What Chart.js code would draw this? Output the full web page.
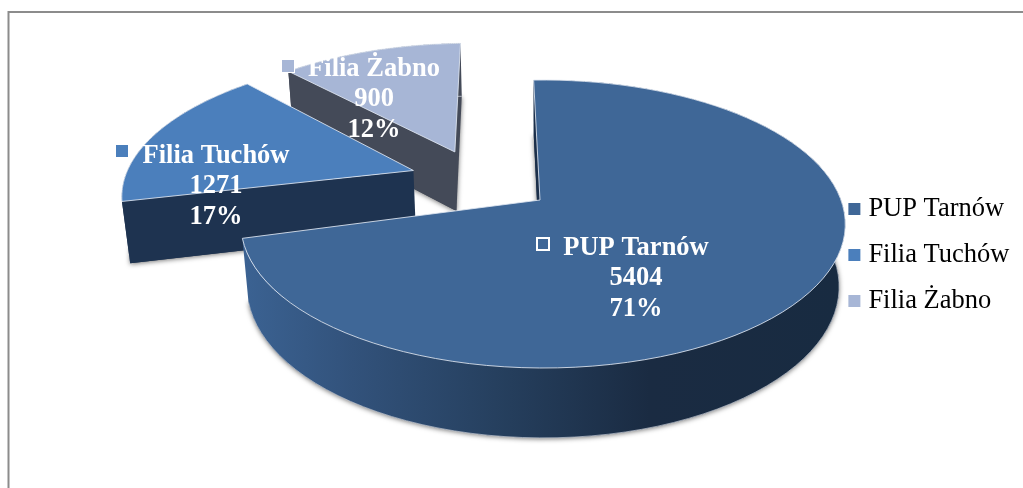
<!DOCTYPE html>
<html><head><meta charset="utf-8">
<style>html,body{margin:0;padding:0;background:#fff}canvas{display:block}</style>
<script src="https://cdn.jsdelivr.net/npm/chart.js@4/dist/chart.umd.js"></script>
</head><body><canvas id="c" width="1023" height="488"></canvas>
<script>
const categories = ['PUP Tarnów', 'Filia Tuchów', 'Filia Żabno'];
const values = [5404, 1271, 900];
const percents = ['71%', '17%', '12%'];
const explosion = [0.2656, 0.2345, 0.225];
const topColors = ['#3f6797', '#4b7fbc', '#a7b6d6'];
const sideColors = ['#1b2f4a', '#1e3350', '#444a58'];
const FIRST_ANGLE = -2.0;

// perspective view of the pie plane; the anchor is the tip of the first slice
const VIEW = {x0: 540, y0: 200, L: 298, K: 140, p: 0.1667, q: 0.02, H: 63};
const RIM_SHIFT = [[0.01, 0], [0.005, -0.033], [0.01, -0.012]];
const OFFSET_UNIT = 100;
const LABEL_POS = [
  {x: 636, y: 248, kx: 543, ky: 244, hollow: true},
  {x: 216, y: 156, kx: 122, ky: 151},
  {x: 374, y: 69, kx: 288, ky: 66, edge: true}
];
const LINE_H = 30.5;

const { PieController, ArcElement } = Chart;

function project(u, v, h) {
  const w = 1 - VIEW.p * v + VIEW.q * h;
  return [VIEW.x0 + VIEW.L * u / w, VIEW.y0 + (VIEW.K * v + VIEW.H * h) / w];
}

class Arc3D extends ArcElement {
  static id = 'arc3d';
  draw(ctx) {
    const a0 = this.startAngle, a1 = this.endAngle;
    const mid = (a0 + a1) / 2;
    const e = this.options.offset / OFFSET_UNIT;
    const idx = this.$idx;
    const anchor = this.$anchor;
    const cu = e * Math.cos(mid) - anchor[0], cv = e * Math.sin(mid) - anchor[1];
    const N = 90;
    const rim = h => {
      const pts = [];
      for (let i = 0; i <= N; i++) {
        const a = a0 + (a1 - a0) * i / N;
        pts.push(project(cu + RIM_SHIFT[idx][0] + Math.cos(a), cv + RIM_SHIFT[idx][1] + Math.sin(a), h));
      }
      return pts;
    };
    const poly = pts => {
      ctx.beginPath();
      pts.forEach((p, i) => i ? ctx.lineTo(p[0], p[1]) : ctx.moveTo(p[0], p[1]));
      ctx.closePath();
    };
    const tipT = project(cu, cv, 0), tipB = project(cu, cv, 1);
    const top = rim(0), bot = rim(1);

    ctx.save();
    // soft shadow of the lower face
    ctx.save();
    ctx.shadowColor = 'rgba(0,0,0,0.55)';
    ctx.shadowBlur = 5;
    ctx.shadowOffsetX = 0;
    ctx.shadowOffsetY = 1;
    poly(bot.concat([tipB]));
    ctx.fillStyle = sideColors[idx];
    ctx.fill();
    ctx.restore();

    // outer wall
    let fill = sideColors[idx];
    if (idx === 0) {
      const g = ctx.createLinearGradient(245, 0, 840, 0);
      g.addColorStop(0, '#3b6292');
      g.addColorStop(0.18, '#32527b');
      g.addColorStop(0.42, '#26405f');
      g.addColorStop(0.68, '#1a2b42');
      g.addColorStop(1, '#182b41');
      fill = g;
    }
    poly(top.concat(bot.slice().reverse()));
    ctx.fillStyle = fill;
    ctx.fill();

    // light rim of lower edge
    ctx.beginPath();
    bot.forEach((p, i) => i ? ctx.lineTo(p[0], p[1]) : ctx.moveTo(p[0], p[1]));
    ctx.strokeStyle = 'rgba(200,205,215,0.7)';
    ctx.lineWidth = 1;
    ctx.stroke();

    // the flat wall that faces the viewer
    ctx.fillStyle = sideColors[idx];
    poly([top[0], bot[0], tipB, tipT]);
    ctx.fill();

    // top face
    poly(top.concat([tipT]));
    ctx.fillStyle = topColors[idx];
    ctx.fill();
    ctx.strokeStyle = 'rgba(225,232,242,0.85)';
    ctx.lineWidth = 1;
    ctx.stroke();
    ctx.restore();
  }
}

class Pie3D extends PieController {
  static id = 'pie3d';
  static defaults = {dataElementType: 'arc3d'};
  draw() {
    const els = this._cachedMeta.data;
    const ctx = this.chart.ctx;
    const first = els[0];
    const m0 = (first.startAngle + first.endAngle) / 2;
    const e0 = first.options.offset / OFFSET_UNIT;
    const anchor = [e0 * Math.cos(m0), e0 * Math.sin(m0)];
    for (let i = els.length - 1; i >= 0; i--) {
      els[i].$idx = i;
      els[i].$anchor = anchor;
      els[i].draw(ctx);
    }
  }
}
Chart.register(Arc3D, Pie3D);

const framePlugin = {
  id: 'frame',
  beforeDraw(chart) {
    const ctx = chart.ctx;
    ctx.save();
    ctx.fillStyle = '#fff';
    ctx.fillRect(0, 0, chart.width, chart.height);
    ctx.strokeStyle = '#8c8c8c';
    ctx.lineWidth = 2;
    ctx.beginPath();
    ctx.moveTo(8.5, chart.height);
    ctx.lineTo(8.5, 12);
    ctx.lineTo(chart.width, 12);
    ctx.stroke();
    ctx.restore();
  }
};

const labelPlugin = {
  id: 'sliceLabels',
  afterDatasetsDraw(chart) {
    const ctx = chart.ctx;
    ctx.save();
    ctx.font = 'bold 26.5px "Liberation Serif"';
    ctx.textAlign = 'center';
    ctx.textBaseline = 'middle';
    categories.forEach((name, i) => {
      const p = LABEL_POS[i];
      ctx.fillStyle = '#fff';
      ctx.fillText(name, p.x, p.y);
      ctx.fillText(String(values[i]), p.x, p.y + LINE_H);
      ctx.fillText(percents[i], p.x, p.y + 2 * LINE_H);
      if (p.hollow) {
        ctx.strokeStyle = '#fff';
        ctx.lineWidth = 2;
        ctx.strokeRect(p.kx - 6, p.ky - 6, 12, 12);
      } else {
        ctx.fillStyle = topColors[i];
        ctx.fillRect(p.kx - 6, p.ky - 6, 12, 12);
        if (p.edge) {
          ctx.strokeStyle = '#fff';
          ctx.lineWidth = 1;
          ctx.strokeRect(p.kx - 6.5, p.ky - 6.5, 13, 13);
        }
      }
    });
    ctx.restore();
  }
};

new Chart(document.getElementById('c'), {
  type: 'pie3d',
  data: {
    labels: categories,
    datasets: [{
      data: values,
      backgroundColor: topColors,
      offset: ctx => explosion[ctx.dataIndex] * OFFSET_UNIT
    }]
  },
  options: {
    responsive: false,
    animation: false,
    rotation: FIRST_ANGLE,
    layout: {padding: {top: 22, right: 3.5}},
    plugins: {
      tooltip: {enabled: false},
      legend: {
        position: 'right',
        labels: {
          color: '#000',
          boxWidth: 1.5,
          boxHeight: 1.5,
          padding: 19.5,
          font: {family: '"Liberation Serif"', size: 26.5},
          generateLabels: chart => chart.data.labels.map((t, i) => ({
            text: t, fillStyle: topColors[i], strokeStyle: topColors[i],
            lineWidth: 10.5, hidden: false, index: i
          }))
        }
      }
    }
  },
  plugins: [framePlugin, labelPlugin]
});
</script></body></html>
